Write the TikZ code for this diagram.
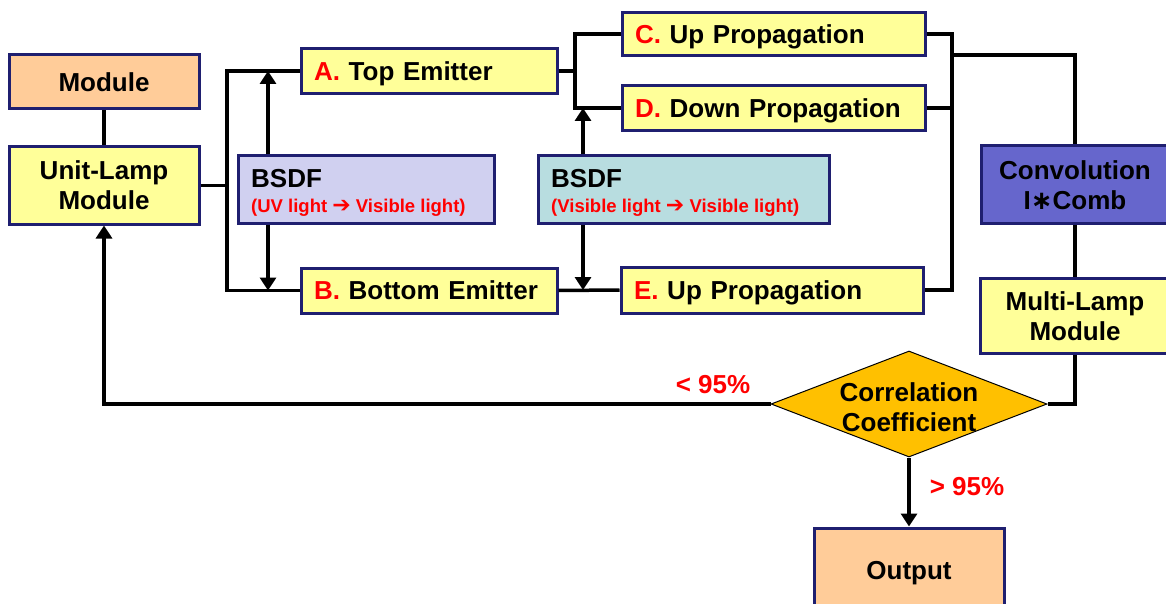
\documentclass[tikz,border=0pt]{standalone}
\usepackage{fontspec}
\setmainfont{Liberation Sans}
\newfontfamily\djv{DejaVu Sans}
\usetikzlibrary{arrows.meta,shapes.geometric}
\definecolor{bordc}{HTML}{1F1F70}
\definecolor{yel}{HTML}{FFFF99}
\definecolor{peach}{HTML}{FFCC99}
\definecolor{lav}{HTML}{D0D0F0}
\definecolor{tealb}{HTML}{B8DDE0}
\definecolor{convc}{HTML}{6666CC}
\definecolor{goldc}{HTML}{FFC000}
\definecolor{redt}{HTML}{FF0000}
\begin{document}
\begin{tikzpicture}[x=1pt,y=-1pt,
  box/.style={draw=bordc, line width=3pt, inner sep=0pt, align=center,
    font=\fontsize{26}{30}\selectfont\bfseries},
  onel/.style={text height=18.6pt, text depth=0pt},
  lbox/.style={box, onel, fill=yel, align=left, inner xsep=13pt, text width=#1},
  wire/.style={draw=black, line width=3.5pt},
  arr/.style={draw=black, line width=3.5pt, arrows={-Triangle[length=13pt,width=16pt]}},
  big/.style={font=\fontsize{26}{30}\selectfont\bfseries, inner sep=0pt},
  small/.style={font=\fontsize{18.5}{22}\selectfont\bfseries, text=redt, inner sep=0pt},
  pct/.style={font=\fontsize{26}{30}\selectfont\bfseries, text=redt, inner sep=0pt}]
\useasboundingbox (0,0) rectangle (1166,604);
\clip (0,0) rectangle (1166,604);

% boxes
\node[box, onel, fill=peach, minimum width=190, minimum height=54] (M) at (104,82) {Module};
\node[box, fill=yel, minimum width=190, minimum height=77] (U) at (104,185.5) {Unit-Lamp\\Module};
\node[lbox=230, minimum height=45] (A) at (429,71) {\textcolor{redt}{A.} Top Emitter};
\node[lbox=230, minimum height=45] (B) at (429,290.5) {\textcolor{redt}{B.} Bottom Emitter};
\node[lbox=277, minimum height=43] (C) at (773.5,34) {\textcolor{redt}{C.} Up Propagation};
\node[lbox=277, minimum height=45] (D) at (773.5,108) {\textcolor{redt}{D.} Down Propagation};
\node[lbox=276, minimum height=46] (E) at (772,290) {\textcolor{redt}{E.} Up Propagation};
\node[box, fill=lav, minimum width=256, minimum height=67] (S1) at (366,189.5) {};
\node[big, anchor=base west] (S1a) at (251,188) {BSDF};
\node[small, anchor=base west] (S1b) at (251,212) {(UV light {\djv\bfseries\fontsize{22}{22}\selectfont ➔} Visible light)};
\node[box, fill=tealb, minimum width=291, minimum height=67] (S2) at (683.5,189.5) {};
\node[big, anchor=base west] (S2a) at (551,188) {BSDF};
\node[small, anchor=base west] (S2b) at (551,212) {(Visible light {\djv\bfseries\fontsize{22}{22}\selectfont ➔} Visible light)};
\node[box, fill=convc, minimum width=210, minimum height=77] (V) at (1086,184.5) {};
\node[big, align=center] (Vt) at (1075,185) {Convolution\\I{\djv\bfseries ∗}Comb};
\node[box, fill=yel, minimum width=210, minimum height=75] (ML) at (1085,315.5) {};
\node[big, align=center] (MLt) at (1075,316) {Multi-Lamp\\Module};
\node[diamond, draw=black, line width=1pt, fill=goldc, aspect=2.6, minimum width=276, minimum height=106, inner sep=0pt] (CC) at (909,404) {};
\node[big, align=center] (CCt) at (909,407) {Correlation\\Coefficient};
\node[box, onel, fill=peach, minimum width=190, minimum height=84] (O) at (909,570) {Output};

% labels
\node[pct] (lt) at (713,385) {< 95\%};
\node[pct] (gt) at (967,487) {> 95\%};

% connectors
\draw[wire] (M.south) -- (U.north);
\coordinate (busL) at (227,185.5);
\draw[wire] (U.east) -- (busL);
\draw[wire] (A.west) -| (busL) |- (B.west);
\coordinate (x1) at (268,0);
\draw[arr] (x1 |- S1.north) -- (x1 |- A.west);
\draw[arr] (x1 |- S1.south) -- (x1 |- B.west);

\coordinate (busM) at (575,0);
\draw[wire] (A.east) -- (busM |- A.east);
\draw[wire] (C.west) -| (busM |- D.west) -- (D.west);
\draw[wire] (B.east) -- (E.west);
\coordinate (x2) at (583,0);
\draw[arr] (x2 |- S2.north) -- (x2 |- D.west);
\draw[arr] (x2 |- S2.south) -- (x2 |- E.west);

\coordinate (busR) at (952,0);
\draw[wire] (C.east) -| (busR |- E.east) -- (E.east);
\draw[wire] (D.east) -- (busR |- D.east);
\coordinate (jR) at (952,55);
\coordinate (xc) at (1075,0);
\draw[wire] (jR) -| (xc |- V.north);
\draw[wire] (xc |- V.south) -- (xc |- ML.north);
\draw[wire] (xc |- ML.south) |- (CC.east);
\draw[arr] (CC.west) -| (U.south);
\draw[arr] (CC.south) -- (O.north);
\end{tikzpicture}
\end{document}
